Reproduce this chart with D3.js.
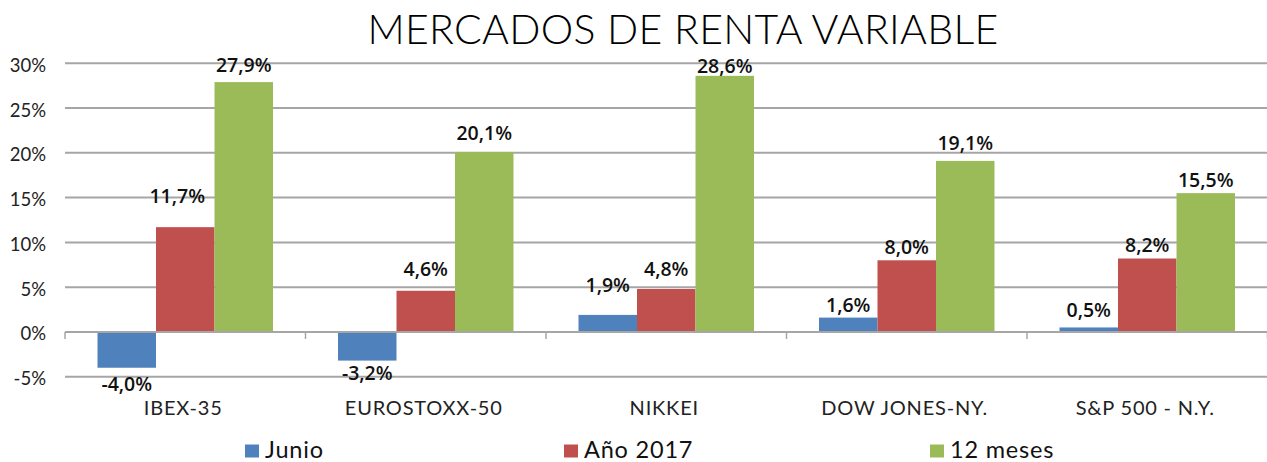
<!DOCTYPE html>
<html>
<head>
<meta charset="utf-8">
<script src="https://cdn.jsdelivr.net/npm/d3@7"></script>
<style>
  html, body { margin: 0; padding: 0; background: #fff; }
  svg { display: block; }
</style>
</head>
<body>
<svg id="chart" width="1267" height="462"></svg>
<script>
// ---- data ----
const title = "MERCADOS DE RENTA VARIABLE";
const categories = ["IBEX-35", "EUROSTOXX-50", "NIKKEI", "DOW JONES-NY.", "S&P 500 - N.Y."];
const seriesNames = ["Junio", "Año 2017", "12 meses"];
const junio = [-4.0, -3.2, 1.9, 1.6, 0.5];
const ano2017 = [11.7, 4.6, 4.8, 8.0, 8.2];
const doceMeses = [27.9, 20.1, 28.6, 19.1, 15.5];
const yTicks = [-5, 0, 5, 10, 15, 20, 25, 30];
const labelText = v => v.toFixed(1).replace(".", ",") + "%";

// ---- style / layout ----
const colors = ["#4F81BD", "#C0504D", "#9BBB59"];
// manual label nudges (gap in px between bar end and label baseline / top; dx)
const labelGap = [[23, 19, 23, 6, 10], [24, 15, 13, 6, 7], [10, 12, 3, 11, 6]];
const labelDx = [[0, 0, 0, 0, 0], [-8, 0, 0, 0, 0], [0, 0, 0, 0, 0]];

const svg = d3.select("#chart");
const values = [junio, ano2017, doceMeses];

const x0 = d3.scaleBand().domain(categories).range([65, 1267.5]).padding(0);
const inner = d3.scaleBand().domain(d3.range(3)).range([32.5, x0.bandwidth() - 32.5]).padding(0);
const y = d3.scaleLinear().domain([-5, 30]).range([376.7, 63.3]);

// gridlines
svg.append("g").selectAll("line").data(yTicks).join("line")
  .attr("x1", 65).attr("x2", 1267)
  .attr("y1", d => y(d)).attr("y2", d => y(d))
  .attr("stroke", "#a6a6a6").attr("stroke-width", 2);

// y tick labels
svg.append("g").selectAll("text").data(yTicks).join("text")
  .attr("x", 46).attr("y", d => y(d) + 8.5)
  .attr("text-anchor", "end")
  .attr("font-family", "Lato, 'Open Sans', sans-serif")
  .attr("font-size", 18.5)
  .attr("fill", "#222")
  .text(d => d + "%");

// bars
const groups = svg.append("g").selectAll("g").data(categories).join("g")
  .attr("transform", c => `translate(${x0(c)},0)`);

groups.each(function (c, ci) {
  const g = d3.select(this);
  const rows = values.map((arr, si) => ({ si, v: arr[ci] }));
  g.selectAll("rect").data(rows).join("rect")
    .attr("x", d => inner(d.si))
    .attr("width", inner.bandwidth())
    .attr("y", d => y(Math.max(0, d.v)))
    .attr("height", d => Math.abs(y(d.v) - y(0)))
    .attr("fill", d => colors[d.si]);
});

// zero axis line + ticks
svg.append("line").attr("x1", 65).attr("x2", 1267).attr("y1", y(0)).attr("y2", y(0))
  .attr("stroke", "#a6a6a6").attr("stroke-width", 2);
svg.append("g").selectAll("line").data(d3.range(categories.length + 1)).join("line")
  .attr("x1", i => 65 + i * x0.step()).attr("x2", i => 65 + i * x0.step())
  .attr("y1", y(0)).attr("y2", y(0) + 7)
  .attr("stroke", "#a6a6a6").attr("stroke-width", 1.5);

// data labels
groups.each(function (c, ci) {
  const g = d3.select(this);
  const rows = values.map((arr, si) => ({ si, v: arr[ci] }));
  g.selectAll("text.lbl").data(rows).join("text")
    .attr("class", "lbl")
    .attr("x", d => inner(d.si) + inner.bandwidth() / 2 + labelDx[d.si][ci])
    .attr("y", d => d.v >= 0 ? y(d.v) - labelGap[d.si][ci] : y(d.v) + labelGap[d.si][ci])
    .attr("text-anchor", "middle")
    .attr("font-family", "'Open Sans', 'Noto Sans', sans-serif")
    .attr("font-weight", 600)
    .attr("font-size", 19.5)
    .attr("fill", "#111")
    .text(d => labelText(d.v));
});

// category labels
svg.append("g").selectAll("text").data(categories).join("text")
  .attr("x", c => x0(c) + x0.bandwidth() / 2 - 2)
  .attr("y", 415)
  .attr("text-anchor", "middle")
  .attr("font-family", "Lato, 'Open Sans', sans-serif")
  .attr("font-size", 20)
  .attr("letter-spacing", 0.8)
  .attr("fill", "#222")
  .text(c => c);

// title
svg.append("text")
  .attr("x", 683).attr("y", 43.5)
  .attr("text-anchor", "middle")
  .attr("font-family", "Lato, 'Open Sans', sans-serif")
  .attr("font-weight", 300)
  .attr("font-size", 41)
  .attr("letter-spacing", 0.3)
  .attr("fill", "#000")
  .text(title);

// legend
const legendX = [245, 564, 930];
const lg = svg.append("g").selectAll("g").data(seriesNames).join("g")
  .attr("transform", (d, i) => `translate(${legendX[i]},0)`);
lg.append("rect").attr("x", 0).attr("y", 444.5).attr("width", 14).attr("height", 13)
  .attr("fill", (d, i) => colors[i]);
lg.append("text").attr("x", 20).attr("y", 458)
  .attr("font-family", "Lato, 'Open Sans', sans-serif")
  .attr("font-size", 23.5)
  .attr("letter-spacing", 0.8)
  .attr("fill", "#111")
  .text(d => d);
</script>
</body>
</html>
